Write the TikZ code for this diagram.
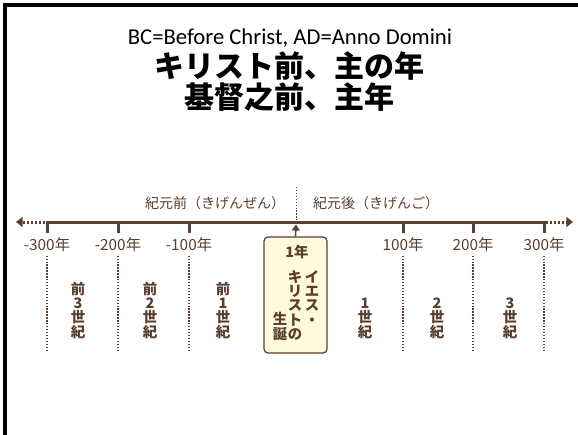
\documentclass[tikz,border=0pt]{standalone}
\usepackage{fontspec}
\setmainfont{Carlito}
\newfontfamily\jpfont{Noto Sans CJK JP}
\usetikzlibrary{arrows.meta}
\definecolor{tlbrown}{HTML}{5A3E2E}
\definecolor{tlfill}{HTML}{FFFADB}
\begin{document}
\begin{tikzpicture}[x=0.75pt,y=-0.75pt,
	jptext/.style={text=tlbrown, font=\jpfont\fontsize{10.5}{11}\selectfont, inner sep=0pt},
	stack/.style={jptext, align=center, font=\jpfont\bfseries\fontsize{10.8}{10.8}\selectfont},
	guide/.style={tlbrown, line width=0.8pt, dash pattern=on 1pt off 1.2pt}]
	\useasboundingbox (0,0) rectangle (578,435);
	\draw[black, line width=3pt] (5.3,435) -- (5.3,5.3) -- (578,5.3);

	% titles
	\node[font=\fontsize{17}{20}\selectfont] (title) at (290,38) {BC=Before Christ, AD=Anno Domini};
	\node[font=\jpfont\bfseries\fontsize{22.5}{26}\selectfont] (titlejp) at (289,66) {キリスト前、主の年};
	\node[font=\jpfont\bfseries\fontsize{22.5}{26}\selectfont] (titlezh) at (289,97) {基督之前、主年};

	% axis
	\draw[tlbrown, line width=2.25pt] (47,233) -- (47,222) -- (544,222) -- (544,233);
	\foreach \x in {118,189,403,473}
		\draw[tlbrown, line width=2.25pt] (\x,222) -- (\x,233);
	\draw[tlbrown, line width=2.25pt, dash pattern=on 1.5pt off 1.5pt, -{Triangle[width=7.5pt,length=5pt]}] (45,222) -- (16,222);
	\draw[tlbrown, line width=2.25pt, dash pattern=on 1.5pt off 1.5pt, -{Triangle[width=7.5pt,length=5pt]}] (546,222) -- (573,222);
	\draw[guide, line width=0.6pt] (296,187) -- (296,220);

	\node[jptext] (before) at (215,203) {紀元前（きげんぜん）};
	\node[jptext] (after) at (376,203) {紀元後（きげんご）};

	% years
	\foreach \x/\t in {47/-300年,118/-200年,189/-100年,403/100年,473/200年,544/300年} {
		\node[jptext, font=\jpfont\fontsize{11.5}{12}\selectfont] (yr\x) at (\x,245) {\t};
		\draw[guide] ([yshift=-2.5pt]yr\x.south) -- (\x,350);
	}

	% centuries
	\node[stack, anchor=south] (bc3) at (78,339) {前\\3\\世\\紀};
	\node[stack, anchor=south] (bc2) at (150,339) {前\\2\\世\\紀};
	\node[stack, anchor=south] (bc1) at (223,339) {前\\1\\世\\紀};
	\node[stack, anchor=south] (ad1) at (365,339) {1\\世\\紀};
	\node[stack, anchor=south] (ad2) at (437,339) {2\\世\\紀};
	\node[stack, anchor=south] (ad3) at (510,339) {3\\世\\紀};

	% birth
	\node[draw=tlbrown, fill=tlfill, line width=0.9pt, rounded corners=3pt,
		minimum width=47.25pt, minimum height=87pt] (birth) at (295.5,295) {};
	\node[stack] (one) at (297,252) {1年};
	\node[stack, anchor=north] (jesus) at (312,270) {イ\\エ\\ス\\・};
	\node[stack, anchor=north] (christ) at (295,270) {キ\\リ\\ス\\ト\\の};
	\node[stack, anchor=south] (born) at (280,341) {生\\誕};
	\draw[tlbrown, line width=1.2pt, -{Triangle[width=6pt,length=4.5pt]}] (birth.north) -- (296,224.5);
\end{tikzpicture}
\end{document}
